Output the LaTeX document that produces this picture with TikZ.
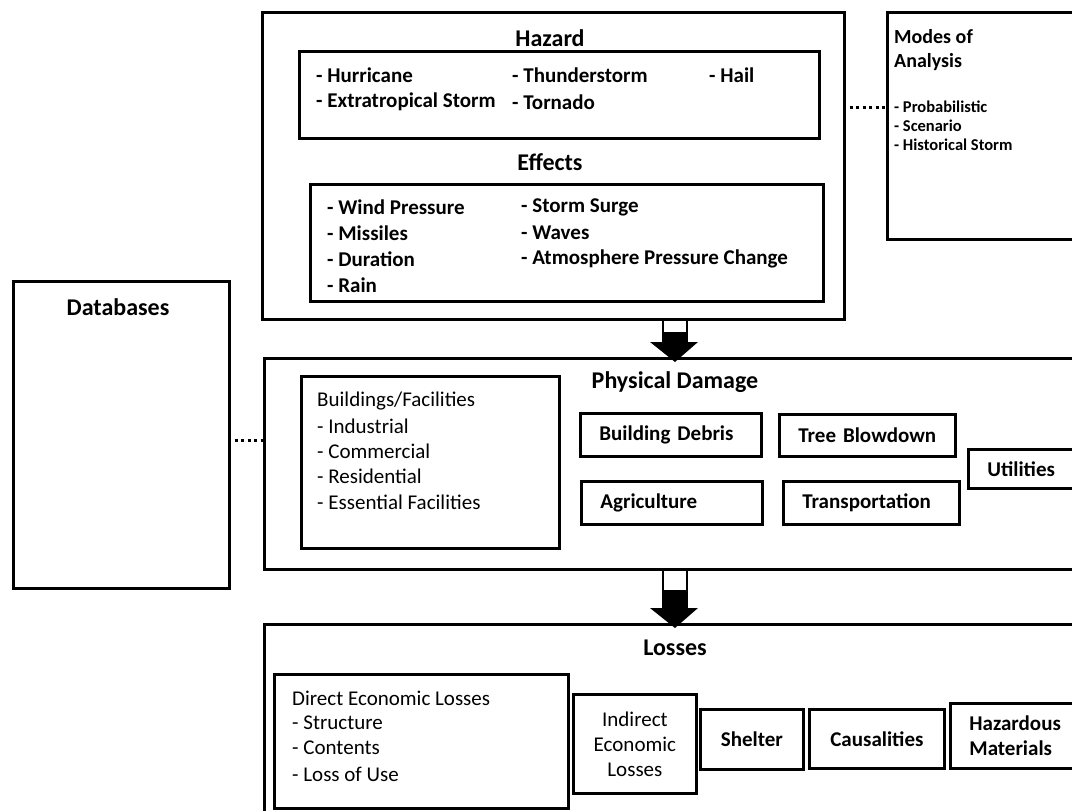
\documentclass[tikz,border=0pt]{standalone}
\usepackage{fontspec}
\setmainfont{Carlito}
\usetikzlibrary{calc}
\newcommand{\blkarrow}[2]{%
  \fill[white] let \p1=(#1), \p2=(#2) in (\x1-12pt,\y1) rectangle (\x1+12pt,\y2+19pt);
  \fill[black] let \p1=(#1), \p2=(#2) in (\x1-12pt,{(\y1+\y2+19pt)/2}) rectangle (\x1+12pt,\y2+19pt);
  \draw[line width=1.8pt] let \p1=(#1), \p2=(#2) in (\x1-12pt,\y1) -- (\x1-12pt,\y2+19pt) (\x1+12pt,\y1) -- (\x1+12pt,\y2+19pt);
  \fill[black] let \p1=(#1), \p2=(#2) in (\x1-25pt,\y2+20pt) -- (\x1+23pt,\y2+20pt) -- (\x1,\y2) -- cycle;
}
\begin{document}
\begin{tikzpicture}[x=1pt,y=-1pt,
  box/.style={draw, fill=white, line width=2.6pt, rectangle, inner sep=0pt, anchor=north west},
  ibox/.style={box, line width=2.8pt},
  tbox/.style={box, line width=2.8pt, font=\bfseries\fontsize{21}{25}\selectfont, align=left, inner xsep=19pt},
  cbox/.style={box, line width=2.8pt, font=\fontsize{21}{25}\selectfont, align=center},
  hd/.style={font=\bfseries\fontsize{24}{26}\selectfont, inner sep=0pt},
  mhd/.style={font=\bfseries\fontsize{20}{24}\selectfont, inner sep=0pt, anchor=west},
  it/.style={font=\bfseries\fontsize{21}{24}\selectfont, anchor=west, inner sep=0pt},
  rg/.style={font=\fontsize{21}{24}\selectfont, anchor=west, inner sep=0pt},
  sm/.style={font=\bfseries\fontsize{16.5}{18}\selectfont, anchor=west, inner sep=0pt},
  dotline/.style={line width=3pt, dash pattern=on 3pt off 3.5pt}
]
\useasboundingbox (0,0) rectangle (1072,811);
\fill[white] (0,0) rectangle (1072,811);
\clip (0,0) rectangle (1072,811);

% ---------- Hazard block ----------
\node[box, minimum width=582pt, minimum height=307pt] (hz) at (261,11) {};
\node[hd] (hzt) at (550,38) {Hazard};
\node[ibox, minimum width=520pt, minimum height=87pt] (hzi) at (298,50) {};
\node[it] (h1) at (316,75) {- Hurricane};
\node[it] (h2) at (512,75) {- Thunderstorm};
\node[it] (h3) at (709,75) {- Hail};
\node[it] (h4) at (316,102) {- Extratropical Storm};
\node[it] (h5) at (512,102) {- Tornado};
\node[hd] (eft) at (550,162) {Effects};
\node[ibox, minimum width=513pt, minimum height=117pt] (ef) at (309,183) {};
\node[it] (e1) at (327,207) {- Wind Pressure};
\node[it] (e2) at (327,233) {- Missiles};
\node[it] (e3) at (327,259) {- Duration};
\node[it] (e4) at (327,285) {- Rain};
\node[it] (e5) at (521,207) {- Storm Surge};
\node[it] (e6) at (521,233) {- Waves};
\node[it] (e7) at (521,259) {- Atmosphere Pressure Change};

% ---------- Modes of Analysis ----------
\node[box, minimum width=210pt, minimum height=227pt] (mo) at (886,11) {};
\node[mhd] (mot1) at (894,37) {Modes of};
\node[mhd] (mot2) at (894,62) {Analysis};
\node[sm] (m1) at (894,107) {- Probabilistic};
\node[sm] (m2) at (894,126) {- Scenario};
\node[sm] (m3) at (894,145) {- Historical Storm};
\coordinate (d1) at (843,107);
\draw[dotline] (d1) -- (d1 -| mo.west);

% ---------- Databases ----------
\node[box, minimum width=216pt, minimum height=307pt] (db) at (12,280) {};
\node[hd] (dbt) at (118,307) {Databases};

% ---------- Physical Damage ----------
\node[box, minimum width=840pt, minimum height=211pt] (pd) at (263,357) {};
\node[hd] (pdt) at (675,382) {Physical Damage};
\node[ibox, minimum width=258pt, minimum height=172pt] (bf) at (300,375) {};
\node[rg] (b1) at (317,401) {Buildings/Facilities};
\node[rg] (b2) at (317,426) {- Industrial};
\node[rg] (b3) at (317,451) {- Commercial};
\node[rg] (b4) at (317,476) {- Residential};
\node[rg] (b5) at (317,502) {- Essential Facilities};
\node[tbox, minimum width=181pt, minimum height=43pt, text width=143pt] (bd) at (579,412) {Building Debris};
\node[tbox, minimum width=176pt, minimum height=42pt, text width=138pt] (tb) at (778,413) {Tree Blowdown};
\node[tbox, minimum width=181pt, minimum height=43pt, text width=143pt] (ag) at (580,480) {Agriculture};
\node[tbox, minimum width=176pt, minimum height=43pt, text width=138pt] (tr) at (782,480) {Transportation};
\node[tbox, minimum width=140pt, minimum height=39pt, text width=102pt] (ut) at (967,448) {Utilities};
\coordinate (d2) at (228,440);
\draw[dotline] (d2) -- (d2 -| pd.west);

% ---------- Losses ----------
\node[box, minimum width=840pt, minimum height=230pt] (lo) at (263,623) {};
\node[hd] (lot) at (675,648) {Losses};
\node[ibox, minimum width=294pt, minimum height=134pt] (de) at (273,673) {};
\node[rg] (l1) at (292,698) {Direct Economic Losses};
\node[rg] (l2) at (292,723) {- Structure};
\node[rg] (l3) at (292,748) {- Contents};
\node[rg] (l4) at (292,774) {- Loss of Use};
\node[cbox, minimum width=123pt, minimum height=99pt] (ie) at (572,693) {Indirect\\Economic\\Losses};
\node[cbox, font=\bfseries\fontsize{21}{25}\selectfont, minimum width=103pt, minimum height=60pt] (sh) at (699,708) {Shelter};
\node[cbox, font=\bfseries\fontsize{21}{25}\selectfont, minimum width=135pt, minimum height=59pt] (ca) at (808,708) {Causalities};
\node[tbox, font=\bfseries\fontsize{21}{25}\selectfont, minimum width=140pt, minimum height=65pt, text width=102pt] (hm) at (949,702) {Hazardous\\Materials};

% ---------- Block arrows ----------
\blkarrow{hz.south -| pdt}{$(pd.north -| pdt)+(0,5)$}
\blkarrow{pd.south -| lot}{$(lo.north -| lot)+(0,5)$}
\end{tikzpicture}
\end{document}
